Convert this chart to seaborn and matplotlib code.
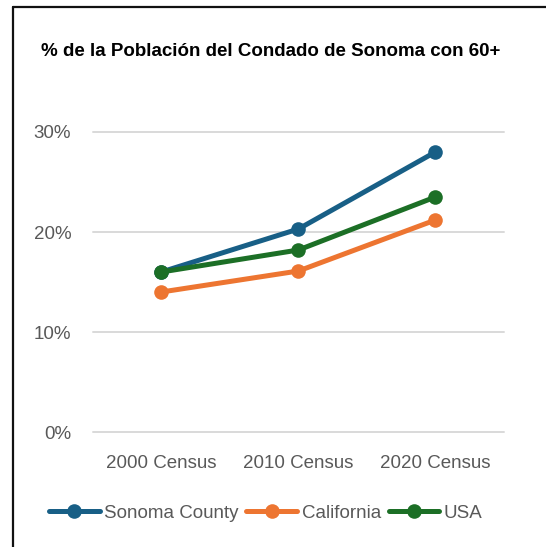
#!/usr/bin/env python
# coding=utf-8
import pandas as pd
import matplotlib
matplotlib.use('Agg')
import matplotlib.pyplot as plt
from matplotlib.lines import Line2D
from matplotlib.ticker import FuncFormatter
import seaborn as sns


CENSUS = ['2000 Census', '2010 Census', '2020 Census']
SONOMA = [16.0, 20.3, 28.0]
CALIFORNIA = [14.0, 16.1, 21.2]
USA = [16.0, 18.2, 23.5]
SERIES = ['Sonoma County', 'California', 'USA']
COLORS = ['#185f86', '#ed7531', '#1c6f26']
TITLE = '% de la Población del Condado de Sonoma con 60+'


def main():
    sns.set_style('white')
    plt.rcParams['font.family'] = ['Liberation Sans Narrow', 'Liberation Sans', 'DejaVu Sans']

    rows = []
    for name, vals in zip(SERIES, [SONOMA, CALIFORNIA, USA]):
        for cat, v in zip(CENSUS, vals):
            rows.append({'census': cat, 'pct': v, 'series': name})
    df = pd.DataFrame(rows)

    fig = plt.figure(figsize=(5.46, 5.47), dpi=100)
    ax = fig.add_axes([0.170, 0.2102, 0.753, 0.5485])

    sns.lineplot(data=df, x='census', y='pct', hue='series',
                 palette=dict(zip(SERIES, COLORS)), hue_order=SERIES,
                 marker='o', markersize=10.5, markeredgewidth=0,
                 linewidth=3.6, ax=ax, legend=False, sort=False)

    ax.set_xlim(-0.5, 2.5)
    ax.set_ylim(0, 30)
    ax.set_yticks([0, 10, 20, 30])
    ax.yaxis.set_major_formatter(FuncFormatter(lambda v, p: '{:.0f}%'.format(v)))
    ax.grid(axis='y', color='#d9d9d9', linewidth=1.4)
    ax.set_axisbelow(True)
    for line in ax.get_ygridlines():
        line.set_clip_on(False)
    for sp in ax.spines.values():
        sp.set_visible(False)
    ax.set_xlabel('')
    ax.set_ylabel('')
    ax.tick_params(axis='both', length=0, labelsize=13.5, labelcolor='#595959')
    ax.tick_params(axis='y', pad=15.5)
    ax.tick_params(axis='x', pad=16.5)

    fig.text(0.4955, 1 - 52 / 547, TITLE, ha='center', va='center',
             fontsize=13.5, fontweight='bold', color='black')

    handles = [Line2D([0], [0], color=c, linewidth=3.6, marker='o',
                      markersize=10.5, markeredgewidth=0) for c in COLORS]
    leg = fig.legend(handles, SERIES, loc='center', ncol=3,
                     bbox_to_anchor=(0.487, 1 - 513 / 547), frameon=False,
                     fontsize=13.5, handlelength=2.7, handletextpad=0.25,
                     columnspacing=0.4)
    for t in leg.get_texts():
        t.set_color('#595959')

    # frame of the chart box (only left and top edges are visible)
    x0 = 13 / 546
    y0 = 1 - 7 / 547
    fig.add_artist(Line2D([x0, x0], [0, y0], transform=fig.transFigure,
                          color='#111111', linewidth=1.6))
    fig.add_artist(Line2D([x0, 1], [y0, y0], transform=fig.transFigure,
                          color='#111111', linewidth=1.6))

    fig.savefig('out.png', dpi=100)


if __name__ == '__main__':
    main()
